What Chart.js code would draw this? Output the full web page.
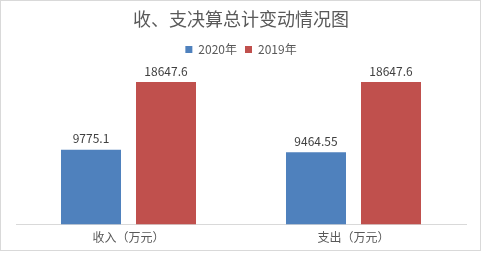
<!DOCTYPE html>
<html>
<head>
<meta charset="utf-8">
<script src="https://cdn.jsdelivr.net/npm/chart.js@4"></script>
<style>
  html, body { margin: 0; padding: 0; background: #fff; }
  #wrap { width: 482px; height: 253px; position: relative; }
</style>
</head>
<body>
<div id="wrap"><canvas id="budget-chart" width="482" height="253"></canvas></div>
<script>
const categories = ["收入（万元）", "支出（万元）"];
const seriesNames = ["2020年", "2019年"];
const values2020 = [9775.1, 9464.55];
const values2019 = [18647.6, 18647.6];

const cjkFont = "'Noto Sans CJK SC', 'Microsoft YaHei', sans-serif";

// value labels above each bar
const barLabels = {
  id: "barLabels",
  afterDatasetsDraw(chart) {
    const ctx = chart.ctx;
    ctx.save();
    ctx.font = "12px " + cjkFont;
    ctx.fillStyle = "#404040";
    ctx.textAlign = "center";
    ctx.textBaseline = "bottom";
    chart.data.datasets.forEach((ds, i) => {
      chart.getDatasetMeta(i).data.forEach((bar, j) => {
        ctx.fillText(String(ds.data[j]), bar.x, bar.y - 5);
      });
    });
    ctx.restore();
  },
};

// extra room under the legend
const legendGap = {
  id: "legendGap",
  beforeInit(chart) {
    const fit = chart.legend.fit;
    chart.legend.fit = function () {
      fit.bind(chart.legend)();
      this.height += 6;
    };
  },
};

// light grey frame around the whole picture
const frame = {
  id: "frame",
  afterDraw(chart) {
    const ctx = chart.ctx;
    ctx.save();
    ctx.strokeStyle = "#d9d9d9";
    ctx.lineWidth = 1;
    ctx.strokeRect(0.5, 0.5, 480, 250);
    ctx.restore();
  },
};

const barConfig = {
  type: "bar",
  data: {
    labels: categories,
    datasets: [
      {
        label: seriesNames[0],
        data: values2020,
        backgroundColor: "#4f81bd",
      },
      {
        label: seriesNames[1],
        data: values2019,
        backgroundColor: "#c0504d",
      },
    ],
  },
  options: {
    responsive: false,
    animation: false,
    categoryPercentage: 0.6667,
    barPercentage: 0.8,
    layout: {
      padding: { left: 16, right: 16, top: 0, bottom: 2 },
    },
    scales: {
      x: {
        grid: { display: false, drawTicks: false },
        border: { color: "#d9d9d9", width: 1 },
        ticks: {
          color: "#595959",
          font: { family: cjkFont, size: 12 },
          padding: 6,
        },
      },
      y: {
        display: false,
        min: 0,
        max: 20000,
      },
    },
    plugins: {
      title: {
        display: true,
        text: "收、支决算总计变动情况图",
        color: "#595959",
        font: { family: cjkFont, size: 18, weight: "normal" },
        padding: { top: 8, bottom: 6 },
      },
      legend: {
        display: true,
        position: "top",
        labels: {
          boxWidth: 7,
          boxHeight: 7,
          color: "#595959",
          font: { family: cjkFont, size: 12 },
          padding: 8,
        },
      },
      tooltip: { enabled: false },
    },
  },
  plugins: [barLabels, legendGap, frame],
};

const budgetChart = new Chart(
  document.getElementById("budget-chart"),
  barConfig
);
</script>
</body>
</html>
